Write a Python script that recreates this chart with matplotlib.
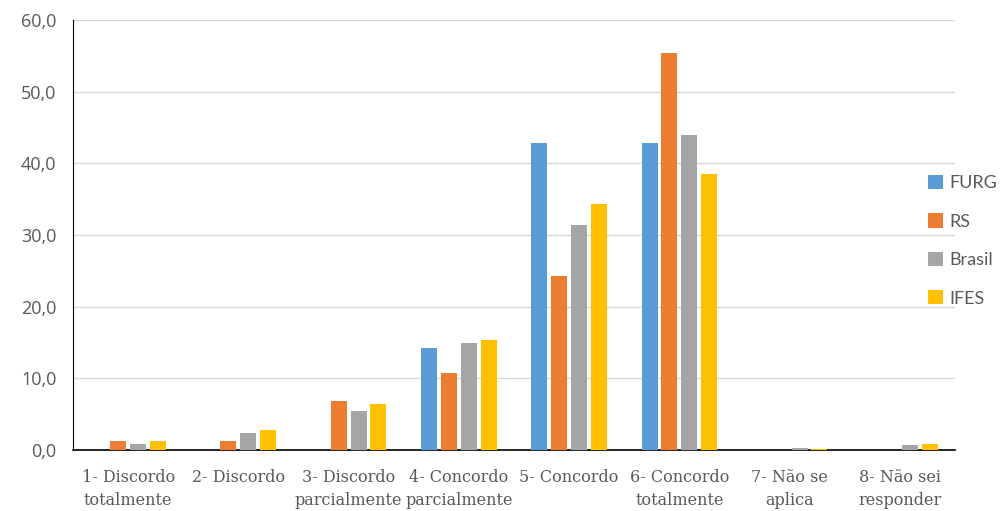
import numpy as np
import matplotlib.pyplot as plt
from matplotlib.ticker import FuncFormatter

categories = ["1- Discordo\ntotalmente", "2- Discordo", "3- Discordo\nparcialmente",
              "4- Concordo\nparcialmente", "5- Concordo", "6- Concordo\ntotalmente",
              "7- Não se\naplica", "8- Não sei\nresponder"]
furg = [0, 0, 0, 14.3, 42.9, 42.9, 0, 0]
rs = [1.2, 1.2, 6.8, 10.8, 24.3, 55.4, 0, 0]
brasil = [0.9, 2.4, 5.4, 14.9, 31.4, 43.9, 0.3, 0.7]
ifes = [1.2, 2.8, 6.4, 15.4, 34.3, 38.5, 0.2, 0.9]

series = [("FURG", furg, "#5B9BD5"), ("RS", rs, "#ED7D31"),
          ("Brasil", brasil, "#A5A5A5"), ("IFES", ifes, "#FFC000")]

fig = plt.figure(figsize=(10, 5.11), dpi=100)
ax = fig.add_axes([0.073, 1 - 450 / 511, 0.882, 430 / 511])

x = np.arange(len(categories))
step = 0.18
width = 0.145
for i, (name, vals, color) in enumerate(series):
    ax.bar(x + (i - 1.5) * step, vals, width, color=color, label=name, zorder=3)

ax.set_xlim(-0.5, len(categories) - 0.5)
ax.set_ylim(0, 60)
ax.set_yticks(np.arange(0, 61, 10))
ax.yaxis.set_major_formatter(FuncFormatter(lambda v, p: f"{v:.1f}".replace(".", ",")))
ax.grid(axis="y", color="#D9D9D9", linewidth=1, zorder=0)

ax.set_xticks(x)
ax.set_xticklabels(categories, fontsize=11.5, color="#595959",
                   family="DejaVu Serif", linespacing=1.45)
ax.tick_params(axis="x", length=0, pad=14)
ax.tick_params(axis="y", length=0, pad=12, labelsize=13, colors="#595959")
for lab in ax.get_yticklabels():
    lab.set_family("Open Sans")

for s in ["top", "right"]:
    ax.spines[s].set_visible(False)
ax.spines["left"].set_color("black")
ax.spines["bottom"].set_color("black")
ax.spines["bottom"].set_linewidth(1.2)

leg = ax.legend(loc="center left", bbox_to_anchor=(0.969, 0.487), frameon=False,
                handlelength=0.85, handleheight=0.85, handletextpad=0.35,
                labelspacing=1.22, borderaxespad=0, borderpad=0,
                prop={"family": "Lato", "size": 13})
for t in leg.get_texts():
    t.set_color("#595959")

fig.savefig("out.png", dpi=100)
